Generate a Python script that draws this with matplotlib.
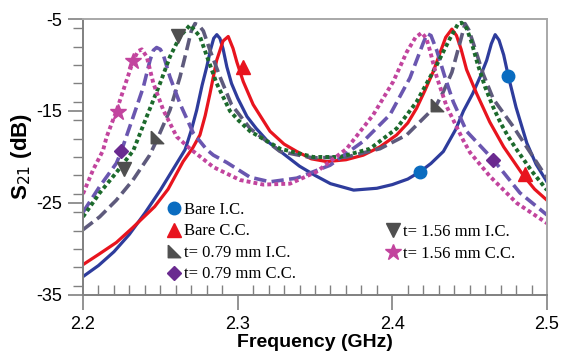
import matplotlib
matplotlib.use("Agg")
import matplotlib.pyplot as plt
from matplotlib.lines import Line2D
from matplotlib.ticker import MultipleLocator

# ---------------------------------------------------------------
# Data (frequency in GHz, S21 in dB)

bare_ic_f = [2.200, 2.210, 2.220, 2.230, 2.240, 2.250, 2.258, 2.266, 2.270, 2.2735, 2.277,
             2.280, 2.2825, 2.2845, 2.2865, 2.2885, 2.2905, 2.293, 2.296, 2.300, 2.306, 2.312,
             2.320, 2.330, 2.340, 2.350, 2.360, 2.375, 2.390, 2.400, 2.410, 2.418, 2.425,
             2.433, 2.441, 2.446, 2.452, 2.457, 2.461, 2.464, 2.4665, 2.469, 2.472, 2.475,
             2.480, 2.487, 2.493, 2.500]
bare_ic_db = [-33.0, -31.8, -30.3, -28.4, -26.1, -23.6, -21.4, -19.2, -17.1, -14.9, -12.2,
              -10.2, -8.3, -7.1, -6.7, -7.1, -8.2, -10.2, -12.0, -13.6, -15.6, -16.9,
              -18.4, -19.7, -21.0, -22.0, -22.9, -23.6, -23.4, -23.0, -22.4, -21.6, -20.7,
              -19.4, -17.0, -15.0, -13.1, -11.2, -9.5, -7.7, -6.7, -7.3, -8.9, -11.2,
              -14.6, -18.5, -20.8, -22.7]

bare_cc_f = [2.200, 2.210, 2.2215, 2.232, 2.2463, 2.255, 2.2647, 2.271, 2.2756, 2.279, 2.2821,
             2.2864, 2.2905, 2.2939, 2.297, 2.2995, 2.3036, 2.310, 2.3209, 2.330, 2.3382,
             2.3476, 2.3576, 2.370, 2.3812, 2.392, 2.4028, 2.410, 2.4157, 2.421, 2.4265,
             2.431, 2.4345, 2.4385, 2.4415, 2.4445, 2.448, 2.4545, 2.463, 2.472, 2.4847,
             2.492, 2.500]
bare_cc_db = [-31.7, -30.6, -29.3, -27.7, -25.4, -23.5, -20.5, -19.0, -17.6, -15.5, -13.1,
              -9.5, -7.4, -6.9, -8.2, -9.7, -11.8, -14.3, -17.2, -18.6, -19.4,
              -20.2, -20.5, -20.3, -19.8, -18.9, -17.6, -16.3, -14.7, -12.8, -10.7,
              -8.6, -7.0, -6.1, -6.8, -8.3, -10.5, -13.1, -16.2, -18.9, -22.0,
              -23.5, -24.7]

t079_ic_f = [2.200, 2.2108, 2.2215, 2.2323, 2.2431, 2.2476, 2.2562, 2.2627, 2.267, 2.270,
             2.2724, 2.275, 2.2778, 2.2821, 2.2886, 2.296, 2.308, 2.3274, 2.3487, 2.3705,
             2.392, 2.4093, 2.4243, 2.429, 2.433, 2.4385, 2.4437, 2.447, 2.4495, 2.4523,
             2.4588, 2.4653, 2.4782, 2.4911, 2.500]
t079_ic_db = [-27.9, -26.5, -24.7, -22.5, -19.8, -18.2, -14.9, -11.3, -8.4, -6.3,
              -5.5, -5.7, -6.3, -8.4, -11.3, -14.3, -16.9, -19.4, -20.1, -20.0,
              -19.1, -17.6, -15.1, -14.2, -12.9, -10.8, -7.6, -5.5, -6.2, -7.6,
              -11.0, -13.7, -16.7, -20.0, -22.3]

t079_cc_f = [2.200, 2.2108, 2.2215, 2.2248, 2.2261, 2.2325, 2.239, 2.2433, 2.2455, 2.2476,
             2.250, 2.2519, 2.2562, 2.2627, 2.2713, 2.280, 2.2843, 2.293, 2.308, 2.3209,
             2.3382, 2.3597, 2.3812, 2.3985, 2.4114, 2.420, 2.4226, 2.425, 2.4287, 2.434,
             2.4394, 2.448, 2.4653, 2.4825, 2.500]
t079_cc_db = [-26.0, -23.2, -20.7, -19.4, -18.7, -15.6, -12.4, -9.5, -8.4, -8.1,
              -8.3, -8.9, -11.3, -14.2, -17.4, -19.2, -19.8, -20.6, -22.2, -22.7,
              -22.3, -20.9, -18.3, -15.4, -11.4, -7.6, -6.6, -6.8, -8.4, -11.3,
              -14.0, -17.2, -20.3, -23.9, -26.3]

t156_ic_f = [2.200, 2.2108, 2.2215, 2.2325, 2.2412, 2.2498, 2.2562, 2.2627, 2.2692, 2.2756,
             2.280, 2.2864, 2.295, 2.3004, 2.308, 2.3274, 2.3489, 2.3662, 2.3856, 2.4028,
             2.4157, 2.4287, 2.4373, 2.4426, 2.4448, 2.448, 2.451, 2.455, 2.460, 2.465,
             2.470, 2.475, 2.480, 2.490, 2.500]
t156_ic_db = [-26.5, -23.9, -21.7, -19.3, -15.6, -12.0, -9.1, -6.9, -5.65, -6.9,
              -9.0, -12.0, -15.0, -16.0, -17.2, -19.1, -20.0, -20.0, -19.1, -16.9,
              -14.0, -10.0, -7.1, -5.5, -5.4, -6.0, -7.4, -9.8, -12.4, -14.5,
              -16.3, -17.8, -19.1, -21.5, -23.6]

t156_cc_f = [2.200, 2.2065, 2.2129, 2.2153, 2.2218, 2.2283, 2.2325, 2.2355, 2.238, 2.2412,
             2.2455, 2.2519, 2.2606, 2.2692, 2.2843, 2.3015, 2.3166, 2.3338, 2.3511, 2.3705,
             2.3877, 2.4006, 2.4093, 2.415, 2.419, 2.422, 2.4243, 2.4287, 2.4351, 2.4459,
             2.4502, 2.4631, 2.4804, 2.500]
t156_cc_db = [-24.0, -21.4, -19.3, -17.8, -14.9, -11.6, -9.5, -8.5, -8.3, -9.1,
              -12.0, -14.9, -17.8, -19.1, -21.1, -22.5, -23.0, -22.9, -21.6, -19.1,
              -15.4, -11.8, -8.6, -7.0, -6.5, -7.1, -8.4, -11.3, -14.5, -18.2,
              -19.5, -22.1, -25.0, -27.2]

# marker positions on each curve
bare_ic_mf, bare_ic_mdb = [2.418, 2.475], [-21.6, -11.2]
bare_cc_mf, bare_cc_mdb = [2.3035, 2.4858], [-10.2, -21.8]
t079_ic_mf, t079_ic_mdb = [2.248, 2.429], [-17.8, -14.3]
t079_cc_mf, t079_cc_mdb = [2.2245, 2.465], [-19.3, -20.3]
t156_ic_mf, t156_ic_mdb = [2.2616, 2.2265], [-6.9, -21.3]
t156_cc_mf, t156_cc_mdb = [2.2325, 2.2228], [-9.6, -15.1]

labels = ["Bare I.C.", "Bare C.C.", "t= 0.79 mm I.C.", "t= 0.79 mm C.C.",
          "t= 1.56 mm I.C.", "t= 1.56 mm C.C."]


#%% ---------------------------------------------------------------
# Plot

plt.rcParams["font.family"] = ["Liberation Sans", "DejaVu Sans"]

fig = plt.figure(figsize=(5.61, 3.52), dpi=100)
ax = fig.add_axes([0.148, 0.162, 0.827, 0.784])

corner = [(-1, 1), (-1, -1), (1, -1), (-1, 1)]   # right-angle triangle marker

c_blue, c_blue_m = "#2E3C9C", "#0A6CC0"
c_red = "#E8141E"
c_gray, c_gray_m = "#5E5A7C", "#4F4F4F"
c_purp, c_purp_m = "#6A56B0", "#6A2A90"
c_green = "#1C6A2C"
c_mag = "#C2449E"

ax.plot(bare_ic_f, bare_ic_db, color=c_blue, lw=2.3, solid_joinstyle="round")
ax.plot(bare_cc_f, bare_cc_db, color=c_red, lw=2.3, solid_joinstyle="round")
ax.plot(t079_ic_f, t079_ic_db, color=c_gray, lw=2.6, dashes=(3.4, 1.5))
ax.plot(t079_cc_f, t079_cc_db, color=c_purp, lw=2.6, dashes=(3.4, 1.5))
ax.plot(t156_ic_f, t156_ic_db, color=c_green, lw=2.8, dashes=(1.0, 0.8))
ax.plot(t156_cc_f, t156_cc_db, color=c_mag, lw=2.8, dashes=(1.0, 0.8))

ax.plot(bare_ic_mf, bare_ic_mdb, ls="none", marker="o", ms=9, color=c_blue_m)
ax.plot(bare_cc_mf, bare_cc_mdb, ls="none", marker="^", ms=10, color=c_red)
ax.plot(t079_ic_mf, t079_ic_mdb, ls="none", marker=corner, ms=9, color=c_gray_m)
ax.plot(t079_cc_mf, t079_cc_mdb, ls="none", marker="D", ms=7, color=c_purp_m)
ax.plot(t156_ic_mf, t156_ic_mdb, ls="none", marker="v", ms=10, color=c_gray_m)
ax.plot(t156_cc_mf, t156_cc_mdb, ls="none", marker="*", ms=12, color=c_mag)

ax.set_xlim(2.2, 2.5)
ax.set_ylim(-35, -5)
ax.xaxis.set_major_locator(MultipleLocator(0.1))
ax.xaxis.set_minor_locator(MultipleLocator(0.01))
ax.yaxis.set_major_locator(MultipleLocator(10))
ax.yaxis.set_minor_locator(MultipleLocator(2))
ax.set_xticks([2.2, 2.3, 2.4, 2.5], ["2.2", "2.3", "2.4", "2.5"])
ax.set_yticks([-35, -25, -15, -5], ["-35", "-25", "-15", "-5"])

ax.tick_params(axis="x", which="major", direction="out", length=11, width=1.2,
               color="#808080", labelsize=13, pad=4)
ax.tick_params(axis="x", which="minor", direction="in", length=7, width=1.0, color="#808080")
ax.tick_params(axis="y", which="major", direction="out", length=11, width=1.2,
               color="#808080", labelsize=13, pad=4)
ax.tick_params(axis="y", which="minor", direction="out", length=7, width=1.0, color="#808080")

for s in ["left", "bottom"]:
    ax.spines[s].set_color("#808080")
    ax.spines[s].set_linewidth(1.4)
for s in ["top", "right"]:
    ax.spines[s].set_color("#A8A8A8")
    ax.spines[s].set_linewidth(1.4)

ax.set_xlabel("Frequency (GHz)", fontsize=14, fontweight="bold", labelpad=1)
ax.set_ylabel("S$_{21}$ (dB)", fontsize=16, fontweight="bold", labelpad=2)

# legends (marker only), two blocks as in the original
h = [Line2D([], [], ls="none", marker="o", ms=9, color=c_blue_m),
     Line2D([], [], ls="none", marker="^", ms=10, color=c_red),
     Line2D([], [], ls="none", marker=corner, ms=9, color=c_gray_m),
     Line2D([], [], ls="none", marker="D", ms=7, color=c_purp_m),
     Line2D([], [], ls="none", marker="v", ms=10, color=c_gray_m),
     Line2D([], [], ls="none", marker="*", ms=12, color=c_mag)]

leg_font = {"family": "Liberation Serif", "size": 12}
leg1 = ax.legend(h[:4], labels[:4], loc="upper left", bbox_to_anchor=(0.182, 0.337),
                 frameon=False, prop=leg_font, handlelength=0.8, handletextpad=0.2,
                 labelspacing=0.33, borderpad=0, borderaxespad=0)
ax.add_artist(leg1)
ax.legend(h[4:], labels[4:], loc="upper left", bbox_to_anchor=(0.653, 0.256),
          frameon=False, prop=leg_font, handlelength=0.8, handletextpad=0.2,
          labelspacing=0.33, borderpad=0, borderaxespad=0)

fig.savefig("out.png", dpi=100)
